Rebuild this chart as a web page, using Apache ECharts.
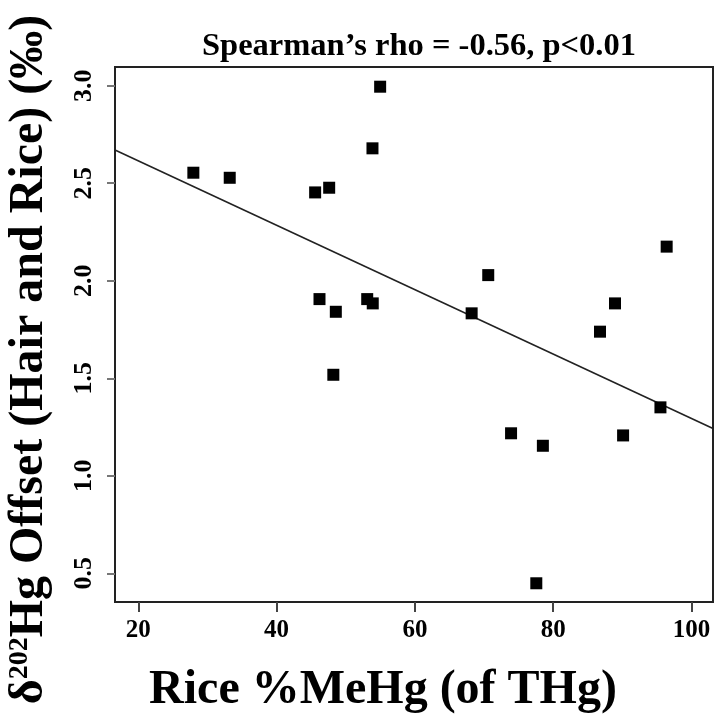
<!DOCTYPE html>
<html>
<head>
<meta charset="utf-8">
<script src="https://cdn.jsdelivr.net/npm/echarts@6/dist/echarts.min.js"></script>
<style>html,body{margin:0;padding:0;background:#fff}#c{width:716px;height:719px}</style>
</head>
<body>
<div id="c"></div>
<script>
var riceMeHg = [27.96, 33.22, 45.57, 47.6, 54.97, 53.86, 46.2, 48.56, 53.1, 53.9, 70.6, 68.2, 96.4, 88.93, 86.76, 48.2, 95.5, 73.9, 78.5, 90.1, 77.55];
var offset202 = [2.554, 2.528, 2.453, 2.477, 2.995, 2.679, 1.906, 1.841, 1.906, 1.884, 2.029, 1.833, 2.175, 1.884, 1.739, 1.518, 1.351, 1.218, 1.154, 1.207, 0.449];
var trendX = [16.63, 103.1];
var trendY = [2.670, 1.243];
var xTicks = [20, 40, 60, 80, 100];
var yTicks = [0.5, 1.0, 1.5, 2.0, 2.5, 3.0];

var FONT = "'Liberation Serif', 'Times New Roman', serif";
var chart = echarts.init(document.getElementById('c'));
chart.setOption({
  animation: false,
  backgroundColor: '#fff',
  title: {
    text: 'Spearman\u2019s rho = -0.56, p<0.01',
    left: 414, top: 25, textAlign: 'center',
    textStyle: {fontFamily: FONT, fontWeight: 'bold', fontSize: 32.5, color: '#000'}
  },
  grid: {left: 115, right: 3, top: 67, bottom: 117, outerBoundsMode: 'none', containLabel: false, show: true, borderColor: '#222', borderWidth: 2, backgroundColor: 'transparent'},
  xAxis: {
    type: 'value', min: 16.63, max: 103.1,
    name: 'Rice %MeHg (of THg)', nameLocation: 'middle', nameGap: 65,
    nameTextStyle: {fontFamily: FONT, fontWeight: 'bold', fontSize: 48, color: '#000', padding: [0, 62, 0, 0]},
    axisLine: {show: false},
    axisTick: {show: true, length: 10, customValues: xTicks, lineStyle: {color: '#444', width: 2}},
    axisLabel: {customValues: xTicks, margin: 16, fontFamily: FONT, fontWeight: 'bold', fontSize: 25, color: '#000', formatter: function(v){return String(v);}},
    splitLine: {show: false}
  },
  yAxis: {
    type: 'value', min: 0.353, max: 3.096,
    name: '{d|\u03b4}{sup|202}{d|Hg Offset (Hair and Rice) (\u2030)}',
    nameLocation: 'middle', nameGap: 61, nameRotate: 90,
    nameTextStyle: {
      fontFamily: FONT, fontWeight: 'bold', fontSize: 48, color: '#000', padding: [0, 50, 0, 0],
      rich: {
        d: {fontFamily: FONT, fontWeight: 'bold', fontSize: 48, color: '#000'},
        sup: {fontFamily: FONT, fontWeight: 'bold', fontSize: 28, color: '#000', padding: [0, 0, 20, 0]}
      }
    },
    axisLine: {show: false},
    axisTick: {show: true, length: 8, customValues: yTicks, lineStyle: {color: '#777', width: 2}},
    axisLabel: {customValues: yTicks, rotate: 90, margin: 18, fontFamily: FONT, fontWeight: 'bold', fontSize: 26, color: '#000', formatter: function(v){return v.toFixed(1);}},
    splitLine: {show: false}
  },
  series: [
    {
      type: 'line',
      data: trendX.map(function(x, i){return [x, trendY[i]];}),
      symbol: 'none',
      lineStyle: {color: '#222', width: 1.6},
      silent: true, z: 1
    },
    {
      type: 'scatter',
      data: riceMeHg.map(function(x, i){return [x, offset202[i]];}),
      symbol: 'rect', symbolSize: 12,
      itemStyle: {color: '#000', opacity: 1}, z: 2
    }
  ]
});
</script>
</body>
</html>
